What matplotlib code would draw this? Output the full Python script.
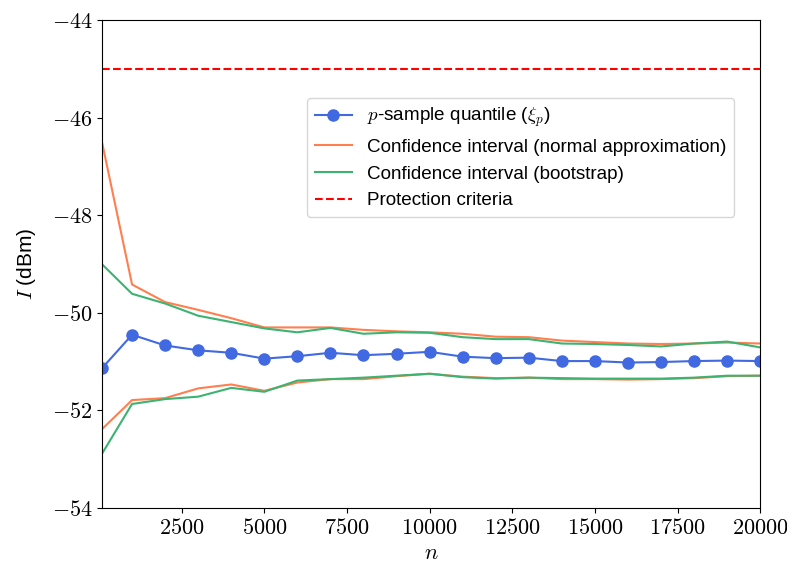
import numpy as np
import matplotlib
matplotlib.use("Agg")
import matplotlib.pyplot as plt
from matplotlib.ticker import FuncFormatter

plt.rcParams['font.family'] = ['Liberation Sans', 'DejaVu Sans']
plt.rcParams['mathtext.fontset'] = 'cm'

#Data
n_values = [100, 1000, 2000, 3000, 4000, 5000, 6000, 7000, 8000, 9000, 10000,
            11000, 12000, 13000, 14000, 15000, 16000, 17000, 18000, 19000, 20000]

quantile = [-51.13, -50.45, -50.67, -50.77, -50.82, -50.94, -50.89, -50.82, -50.87, -50.84, -50.80,
            -50.90, -50.93, -50.92, -50.99, -50.99, -51.02, -51.01, -50.99, -50.98, -50.99]

normal_upper = [-46.53, -49.42, -49.78, -49.94, -50.11, -50.30, -50.30, -50.30, -50.35, -50.38, -50.40,
                -50.43, -50.49, -50.50, -50.57, -50.60, -50.63, -50.64, -50.63, -50.61, -50.63]
normal_lower = [-52.38, -51.79, -51.75, -51.55, -51.47, -51.60, -51.43, -51.36, -51.36, -51.30, -51.25,
                -51.31, -51.34, -51.33, -51.36, -51.36, -51.37, -51.36, -51.34, -51.30, -51.29]

boot_upper = [-49.01, -49.61, -49.81, -50.06, -50.19, -50.32, -50.40, -50.31, -50.43, -50.40, -50.41,
              -50.50, -50.54, -50.54, -50.63, -50.64, -50.66, -50.69, -50.63, -50.59, -50.71]
boot_lower = [-52.88, -51.87, -51.77, -51.72, -51.54, -51.62, -51.39, -51.36, -51.33, -51.29, -51.25,
              -51.32, -51.35, -51.33, -51.34, -51.35, -51.35, -51.35, -51.33, -51.29, -51.29]

protection = -45

#Plot
fig, ax = plt.subplots(figsize=(7.87, 5.63), dpi=100)
fig.subplots_adjust(left=0.13, right=0.966, bottom=0.098, top=0.964)

ax.plot(n_values, quantile, color="royalblue", marker="o", markersize=8, lw=1.5,
        label=r"$p$-sample quantile ($\xi_p$)")
ax.plot(n_values, normal_upper, color="coral", lw=1.5,
        label="Confidence interval (normal approximation)")
ax.plot(n_values, normal_lower, color="coral", lw=1.5)
ax.plot(n_values, boot_upper, color="mediumseagreen", lw=1.5,
        label="Confidence interval (bootstrap)")
ax.plot(n_values, boot_lower, color="mediumseagreen", lw=1.5)
ax.axhline(protection, color="red", ls="--", lw=1.5, label="Protection criteria")

ax.set_xlim(100, 20000)
ax.set_ylim(-54, -44)
ax.set_xticks([2500, 5000, 7500, 10000, 12500, 15000, 17500, 20000])
ax.set_yticks([-54, -52, -50, -48, -46, -44])
ax.xaxis.set_major_formatter(FuncFormatter(lambda v, p: "$%d$" % v))
ax.yaxis.set_major_formatter(FuncFormatter(lambda v, p: "$%d$" % v))
ax.tick_params(labelsize=16)

ax.set_xlabel("$n$", fontsize=16, labelpad=3)
ax.set_ylabel("$I$ (dBm)", fontsize=15, labelpad=10)

ax.legend(loc="upper right", bbox_to_anchor=(0.975, 0.859), fontsize=13.6)

fig.savefig("out.png", dpi=100)
